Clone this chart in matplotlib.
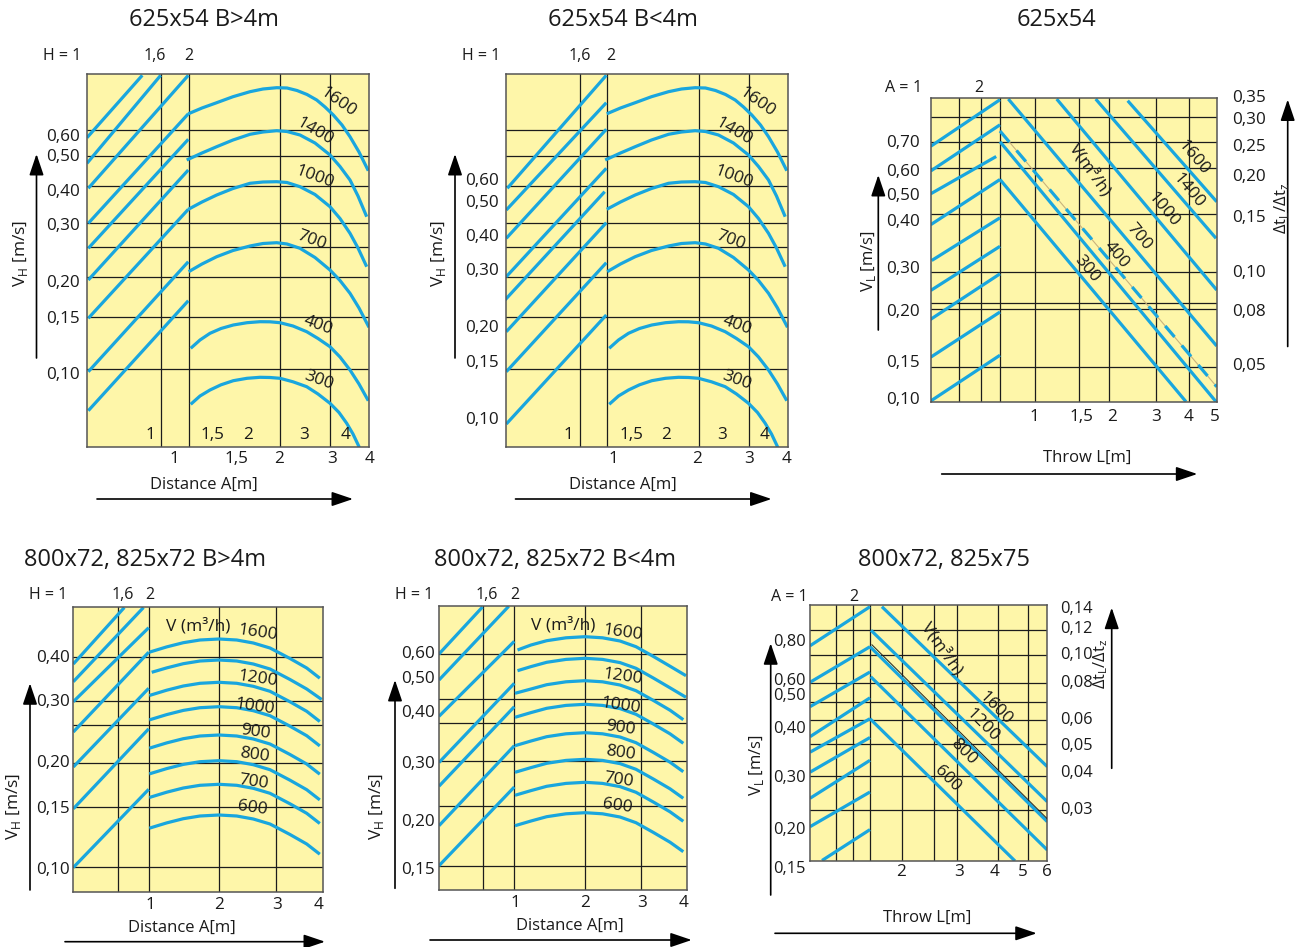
import matplotlib.pyplot as plt

plt.rcParams['font.family'] = ['Open Sans', 'DejaVu Sans']
plt.rcParams['mathtext.fontset'] = 'custom'
plt.rcParams['mathtext.rm'] = 'Open Sans'

BLUE = '#19a6de'
PAPER = '#fef6a9'
INK = '#1c1c1c'

# Todas las posiciones de los nomogramas estan en "unidades de papel":
# x desde el borde izquierdo del recuadro, y desde el borde superior.

# --- 625x54 B>4m / B<4m (mismas curvas y reticula) ---
a_vgrid = [74, 101.5, 193, 243]
a_hgrid = [56, 81.7, 111.7, 149.3, 172.7, 202.7, 243.3, 295]
a_curve_x = [
    [101.3, 115, 129.7, 146, 163, 176, 189.7, 200, 210, 220, 229.7, 238, 246.3, 255, 263, 272, 281.3],
    [99.7, 115, 129.7, 146, 163, 176, 189.7, 200, 213, 228, 243, 253, 263, 271, 279.7],
    [101.3, 115, 129.7, 146, 163, 176, 189.7, 200, 213, 228, 243, 253, 263, 271, 279.7],
    [101.7, 115, 129.7, 146, 163, 176, 189.7, 200, 213, 228, 243, 253, 263, 272, 282],
    [103.7, 113, 123, 134, 146.3, 160, 173, 183, 193, 206, 219.7, 231, 243, 253, 263, 272, 281.3],
    [103.7, 113, 123, 134, 146.3, 160, 173, 183, 193, 206, 219.7, 231, 243, 252, 259.7, 266, 272.3],
]
a_curve_y = [
    [39.8, 34, 28.7, 22.7, 17.7, 15, 13.7, 14, 16.5, 20.5, 26, 33, 41, 51, 62.7, 78, 96.7],
    [86, 79, 72.7, 66, 60.3, 58, 56.7, 57.5, 61, 69, 81, 92.5, 106, 122, 142.7],
    [135.3, 128, 121, 114.5, 109.3, 108, 107.7, 108.5, 112.7, 120.5, 132.7, 144.5, 159.3, 174, 192.7],
    [197.7, 190, 182.7, 176.5, 172, 169.5, 168.7, 170, 174.3, 183.5, 196, 206.5, 219.3, 234, 253.3],
    [274.3, 266, 259.3, 254.5, 251, 248.7, 247.7, 247.8, 248.7, 252, 257.7, 264.5, 272.7, 283, 296, 310, 326.7],
    [330.3, 322, 316, 310.8, 306.7, 304.3, 303.3, 303.5, 304.3, 307.8, 312.7, 320, 329.3, 338.5, 349.3, 360, 373.3],
]
a_curve_names = ['1600', '1400', '1000', '700', '400', '300']
a_name_x = [251.3, 228, 228, 224.7, 231.3, 231.3]
a_name_y = [27.7, 57.7, 102.7, 166, 251, 306]
a_name_rot = [-35, -30, -20, -20, -20, -20]
a_inner_ticks = ['1', '1,5', '2', '3', '4']
a_inner_x = [63, 125.7, 161, 217, 259]

p1_diag_x0 = [0, 0, 1.3, 1.3, 1.3, 1.3, 1.3, 1.3, 1.3]
p1_diag_y0 = [63.7, 89.3, 114.3, 149.3, 174.3, 206, 244.3, 297.7, 336.7]
p1_diag_x1 = [55.3, 73.7, 101.3, 101.3, 101.3, 101.3, 101.3, 101.3, 101.3]
p1_diag_y1 = [1.3, 1.3, 1.3, 39.8, 65.3, 96, 135.3, 187.7, 226.7]
p1_vel = ['0,60', '0,50', '0,40', '0,30', '0,20', '0,15', '0,10']
p1_vel_y = [62.7, 83.3, 117.7, 151.7, 209.3, 245.3, 301]
p1_dist = ['1', '1,5', '2', '3', '4']
p1_dist_x = [87, 149.7, 192, 244.7, 283]
p1_top = ['1,6', '2']
p1_top_x = [68, 102]

p2_diag_x0 = [1.8, 0.8, 0.8, 0.8, -0.5, 0.8, 0.8, 0.8]
p2_diag_y0 = [114.3, 136, 164.3, 202.7, 226, 257.7, 297.7, 350]
p2_diag_x1 = [100.8, 100.8, 100.8, 100.8, 99.2, 100.8, 100.8, 100.8]
p2_diag_y1 = [1.3, 28.7, 55.3, 94.3, 117.7, 148.7, 188.7, 241]
p2_vel = ['0,60', '0,50', '0,40', '0,30', '0,20', '0,15', '0,10']
p2_vel_y = [107, 128.7, 162.7, 196.7, 254.3, 289.3, 346]
p2_dist = ['1', '2', '3', '4']
p2_dist_x = [107.8, 191.2, 243.8, 281.2]
p2_top = ['1,6', '2']
p2_top_x = [74.5, 105.2]

# --- 625x54 (alcance) ---
p3_vgrid = [28.3, 50, 69, 104.3, 148.6, 178.6, 225.3, 258.6]
p3_hgrid = [18.5, 44, 69.5, 116, 173.5, 204, 210.3, 268.5]
p3_up_x0 = [0, 0, 0, 0, 1, 0, -1.4, 0, 0]
p3_up_y0 = [47.8, 72.5, 95.3, 126.2, 162, 192, 221.7, 258.7, 302.5]
p3_up_x1 = [69.3, 69.3, 65.5, 69.3, 69.3, 69.3, 69.3, 69.3, 69.3]
p3_up_y1 = [1.2, 26.3, 58, 81, 119.3, 147.8, 175.3, 213.5, 256.7]
p3_down_x0 = [69.3, 69.3, 77.6, 126, 165, 197]
p3_down_y0 = [81, 43.2, 0.5, 0.5, 0.5, 2.2]
p3_down_x1 = [255.3, 285.3, 286, 286, 285.3, 286]
p3_down_y1 = [303.2, 303.2, 247.5, 191.5, 139.8, 103.2]
p3_dash = [69.3, 32.5, 286, 288.2]
p3_names = ['V(m³/h)', '1600', '1400', '1000', '700', '400', '300']
p3_name_x = [159.3, 262.6, 257.6, 232.6, 208.6, 186, 156]
p3_name_y = [71.5, 58.8, 92.2, 111.5, 138.2, 156.5, 170.8]
p3_name_rot = [-55, -50, -50, -50, -50, -50, -50]
p3_vel = ['0,70', '0,60', '0,50', '0,40', '0,30', '0,20', '0,15', '0,10']
p3_vel_y = [44.8, 73.2, 97.5, 123.2, 170.8, 213.8, 264.2, 301.5]
p3_dt = ['0,35', '0,30', '0,25', '0,20', '0,15', '0,10', '0,08', '0,05']
p3_dt_y = [-0.2, 21.5, 48.2, 78.8, 119.2, 174.8, 213.2, 267.5]
p3_throw = ['1', '1,5', '2', '3', '4', '5']
p3_throw_x = [103.3, 151, 181, 225.3, 257.6, 284.3]

# --- 800x72, 825x72 B>4m ---
p4_vgrid = [44.4, 75.7, 145.7, 202.4]
p4_hgrid = [49.2, 93.2, 117.8, 155.5, 199.8, 259.5]
p4_diag_x0 = [0, 0, 0, 0, 0, 0, 0]
p4_diag_y0 = [56.5, 74.2, 94.2, 124.5, 159.5, 201.3, 260]
p4_diag_x1 = [51, 70.2, 75.4, 75.4, 75.4, 75.4, 75.4]
p4_diag_y1 = [0, 0, 20.2, 44.7, 80.8, 121.3, 181.8]
p4_x = [76, 93.4, 110, 126.7, 145.7, 163.4, 180, 196.7, 216.7, 233.4, 246.5]
p4_x1200 = [78.4, 93.4, 110, 126.7, 145.7, 163.4, 180, 196.7, 216.7, 233.4, 248.4]
p4_curve_y = [
    [44.7, 39.4, 35.2, 32.5, 31.5, 32.5, 35.5, 40.5, 51, 60.5, 70.7],
    [64.8, 60.4, 56.2, 53.5, 52.5, 53.5, 56.5, 61.5, 72, 81.5, 92],
    [88, 82.7, 78.5, 75.8, 74.8, 75.8, 78.8, 83.8, 94.3, 103.8, 114],
    [112.4, 107.1, 102.9, 100.2, 99.2, 100.2, 103.2, 108.2, 118.7, 128.2, 138.4],
    [140.7, 135.4, 131.2, 128.5, 127.5, 128.5, 131.5, 136.5, 147, 156.5, 166.7],
    [166.4, 161.1, 156.9, 154.2, 153.2, 154.2, 157.2, 162.2, 172.7, 182.2, 192.4],
    [190, 184.7, 180.5, 177.8, 176.8, 177.8, 180.8, 185.8, 196.3, 205.8, 216],
    [220.7, 215.4, 211.2, 208.5, 207.5, 208.5, 211.5, 216.5, 227, 236.5, 246.7],
]
p4_curve_x = [p4_x, p4_x1200, p4_x, p4_x, p4_x, p4_x, p4_x, p4_x]
p4_names = ['V (m³/h)', '1600', '1200', '1000', '900', '800', '700', '600']
p4_name_x = [125, 184.4, 184.4, 181.7, 181.7, 181.7, 180, 179]
p4_name_y = [19.2, 25.8, 71.5, 99.2, 124.2, 147.5, 174.2, 200.2]
p4_vel = ['0,40', '0,30', '0,20', '0,15', '0,10']
p4_vel_y = [50.8, 94.8, 155.8, 201.8, 262.5]
p4_dist = ['1', '2', '3', '4']
p4_dist_x = [77.4, 145.7, 203.4, 245.7]

# --- 800x72, 825x72 B<4m ---
p5_vgrid = [43.5, 75.3, 146, 201.7]
p5_hgrid = [48.6, 93, 117.6, 155.6, 199.8, 260]
p5_diag_x0 = [0, 0, 0, 0, 0, 0, 0]
p5_diag_y0 = [48.3, 74.3, 110.6, 156.8, 180.5, 220, 260]
p5_diag_x1 = [43.5, 69.7, 75.3, 75.3, 75.3, 75.3, 75.3]
p5_diag_y1 = [1.3, 0.6, 35.6, 77.6, 101, 140, 181.3]
p5_x_top = [78.5, 92, 107.7, 127, 146, 163.5, 181, 197, 214.3, 231, 247]
p5_x = [76, 92, 107.7, 127, 146, 163.5, 181, 197, 214.3, 231, 244.3]
p5_curve_y = [
    [44.3, 39.3, 35, 32.1, 31, 32.1, 35.3, 41, 50.7, 60.5, 70],
    [65, 60.9, 56.6, 53.7, 52.6, 53.7, 56.9, 62.6, 72.3, 82.1, 91.6],
    [87.6, 83.3, 79, 76.1, 75, 76.1, 79.3, 85, 94.7, 104.5, 114],
    [111.6, 106.9, 102.6, 99.7, 98.6, 99.7, 102.9, 108.6, 118.3, 128.1, 137.6],
    [140, 135.3, 131, 128.1, 127, 128.1, 131.3, 137, 146.7, 156.5, 166],
    [166.6, 161.9, 157.6, 154.7, 153.6, 154.7, 157.9, 163.6, 173.3, 183.1, 192.6],
    [189.6, 184.9, 180.6, 177.7, 176.6, 177.7, 180.9, 186.6, 196.3, 206.1, 215.6],
    [220, 215.3, 211, 208.1, 207, 208.1, 211.3, 217, 226.7, 236.5, 246],
]
p5_curve_x = [p5_x_top, p5_x_top, p5_x, p5_x, p5_x, p5_x, p5_x, p5_x]
p5_names = ['V (m³/h)', '1600', '1200', '1000', '900', '800', '700', '600']
p5_name_x = [124.3, 183.7, 183.7, 181.7, 181.7, 181.7, 180, 178.7]
p5_name_y = [19.3, 27, 71, 100.3, 122.6, 147.6, 174.3, 200.3]
p5_vel = ['0,60', '0,50', '0,40', '0,30', '0,20', '0,15']
p5_vel_y = [48.6, 73.3, 107.6, 158.6, 216, 264.3]
p5_dist = ['1', '2', '3', '4']
p5_dist_x = [76.7, 146, 203.3, 245]

# --- 800x72, 825x75 (alcance) ---
p6_vgrid = [26, 43.3, 60, 92.3, 124.3, 147.3, 187.7, 218.3]
p6_hgrid = [24.7, 49.7, 77.4, 97, 114.7, 139, 170.4, 204.7]
p6_up_x0 = [0, 0, 0, 0, 0, 0, 0, 0, 12]
p6_up_y0 = [40.5, 77, 101.4, 131.4, 146.9, 166.9, 193, 221.4, 255.2]
p6_up_x1 = [60, 60, 60, 60, 60, 60, 60, 60, 60]
p6_up_y1 = [1.4, 41.4, 66.7, 92.5, 113.4, 132.2, 155, 186.7, 224.3]
p6_down_x0 = [71.9, 61, 60, 60.7, 60]
p6_down_y0 = [1.4, 25, 41.4, 71.4, 113.4]
p6_down_x1 = [237.3, 237.3, 237.3, 237.3, 205]
p6_down_y1 = [161.4, 196.4, 216.4, 244.7, 255.7]
p6_thin = [62, 39.5, 237.3, 213.5]
p6_names = ['V(m³/h)', '1600', '1200', '800', '600']
p6_name_x = [131.7, 185, 172.7, 154, 137.3]
p6_name_y = [43, 103, 119.7, 146.4, 173]
p6_name_rot = [-55, -45, -45, -45, -45]
p6_vel = ['0,80', '0,60', '0,50', '0,40', '0,30', '0,20', '0,15']
p6_vel_y = [37, 75.7, 90.7, 123.7, 172.4, 224.7, 263.7]
p6_dt = ['0,14', '0,12', '0,10', '0,08', '0,06', '0,05', '0,04', '0,03']
p6_dt_y = [3.7, 23.7, 49.7, 78, 114.7, 140.4, 168, 204.7]
p6_throw = ['2', '3', '4', '5', '6']
p6_throw_x = [91, 149.3, 185, 212.7, 236.7]

W, H = 1305, 947
fig = plt.figure(figsize=(W / 100, H / 100), dpi=100)


def panel(left, top, w, h, vgrid, hgrid):
    ax = fig.add_axes([left / W, 1 - (top + h) / H, w / W, h / H])
    ax.set_xlim(0, w)
    ax.set_ylim(h, 0)
    ax.set_facecolor(PAPER)
    ax.set_xticks([])
    ax.set_yticks([])
    for s in ax.spines.values():
        s.set_color('#555555')
        s.set_linewidth(1.1)
    for x in vgrid:
        ax.axvline(x, color=INK, lw=0.9, zorder=1)
    for y in hgrid:
        ax.axhline(y, color=INK, lw=0.9, zorder=1)
    return ax


def segments(ax, x0, y0, x1, y1, **kw):
    for a, b, c, d in zip(x0, y0, x1, y1):
        ax.plot([a, c], [b, d], color=BLUE, lw=2.3, zorder=2,
                solid_capstyle='butt', **kw)


def curves(ax, xs_list, ys_list):
    for xs, ys in zip(xs_list, ys_list):
        ax.plot(xs, ys, color=BLUE, lw=2.3, zorder=2,
                solid_joinstyle='round', solid_capstyle='butt')


def arrow(ax, x0, y0, x1, y1):
    ax.annotate('', xy=(x1, y1), xytext=(x0, y0), annotation_clip=False,
                arrowprops=dict(arrowstyle='-|>,head_length=0.65,head_width=0.22',
                                color='black', lw=1.2, mutation_scale=20,
                                shrinkA=0, shrinkB=0))


def txt(ax, x, y, s, size=12.3, **kw):
    kw.setdefault('ha', 'center')
    kw.setdefault('va', 'center')
    ax.text(x, y, s, fontsize=size, color='#1a1a1a', zorder=4, **kw)


VH = r'V$_{\mathregular{H}}$ [m/s]'
VL = r'V$_{\mathregular{L}}$ [m/s]'
DT = r'Δt$_{\mathregular{L}}$/Δt$_{\mathregular{z}}$'

# ---------- fila superior: 625x54 B>4m y B<4m ----------
for left, title, dx0, dy0, dx1, dy1, vel, vel_y, dist, dist_x, top, top_x in [
        (87, '625x54 B>4m', p1_diag_x0, p1_diag_y0, p1_diag_x1, p1_diag_y1,
         p1_vel, p1_vel_y, p1_dist, p1_dist_x, p1_top, p1_top_x),
        (505.5, '625x54 B<4m', p2_diag_x0, p2_diag_y0, p2_diag_x1, p2_diag_y1,
         p2_vel, p2_vel_y, p2_dist, p2_dist_x, p2_top, p2_top_x)]:
    ax = panel(left, 74, 282, 373, a_vgrid, a_hgrid)
    segments(ax, dx0, dy0, dx1, dy1)
    curves(ax, a_curve_x, a_curve_y)
    for s, x, y, r in zip(a_curve_names, a_name_x, a_name_y, a_name_rot):
        txt(ax, x, y, s, 12.5, rotation=r, rotation_mode='anchor')
    for s, x in zip(a_inner_ticks, a_inner_x):
        txt(ax, x, 361, s)
    for s, y in zip(vel, vel_y):
        txt(ax, -7, y, s, ha='right')
    for s, x in zip(dist, dist_x):
        txt(ax, x, 385, s)
    txt(ax, -44, -18, 'H = 1', 11.5, ha='left')
    for s, x in zip(top, top_x):
        txt(ax, x, -18, s, 11.5)
    txt(ax, 117, 411, 'Distance A[m]', 12)
    arrow(ax, 10, 425, 266, 425)
    txt(ax, -67, 179, VH, 12.5, rotation=90)
    arrow(ax, -50.5, 284, -50.5, 80)
    txt(ax, 117, -54, title, 17)

# ---------- 625x54 alcance ----------
ax = panel(930.7, 98.5, 286, 303.5, p3_vgrid, p3_hgrid)
ax.plot([p3_dash[0], p3_dash[2]], [p3_dash[1], p3_dash[3]], color='#c9b27c', lw=0.8, zorder=2)
segments(ax, p3_up_x0, p3_up_y0, p3_up_x1, p3_up_y1)
segments(ax, p3_down_x0, p3_down_y0, p3_down_x1, p3_down_y1)
ax.plot([p3_dash[0], p3_dash[2]], [p3_dash[1], p3_dash[3]], color=BLUE, lw=2.3,
        zorder=2, dashes=(4.5, 3.5))
for s, x, y, r in zip(p3_names, p3_name_x, p3_name_y, p3_name_rot):
    txt(ax, x, y, s, 12.5, rotation=r, rotation_mode='anchor')
for s, y in zip(p3_vel, p3_vel_y):
    txt(ax, -10.7, y, s, ha='right')
for s, y in zip(p3_dt, p3_dt_y):
    txt(ax, 301, y, s, ha='left')
for s, x in zip(p3_throw, p3_throw_x):
    txt(ax, x, 318, s)
txt(ax, -45.7, -11, 'A =', 11.5, ha='left')
txt(ax, -14, -11, '1', 11.5)
txt(ax, 48.3, -11, '2', 11.5)
txt(ax, 156, 359, 'Throw L[m]', 12)
arrow(ax, 11, 375.5, 266.6, 375.5)
txt(ax, -62.4, 163, VL, 12, rotation=90)
arrow(ax, -52.4, 231.5, -52.4, 76.5)
txt(ax, 351, 110, DT, 12, rotation=90)
arrow(ax, 357, 248, 357, 1)
txt(ax, 125.3, -78.5, '625x54', 17)

# ---------- fila inferior: 800x72, 825x72 B>4m y B<4m ----------
for (left, top_, w, h, vg, hg, dx0, dy0, dx1, dy1, cx, cy, names, nx, ny,
     vel, vel_y, vel_x, dist, dist_x, dist_y, topx, top_y, lab, arr, ylab,
     yarr, title) in [
        (73.3, 607.5, 250, 284.8, p4_vgrid, p4_hgrid, p4_diag_x0, p4_diag_y0,
         p4_diag_x1, p4_diag_y1, p4_curve_x, p4_curve_y, p4_names, p4_name_x,
         p4_name_y, p4_vel, p4_vel_y, -3.3, p4_dist, p4_dist_x, 297.5,
         [-44.3, 49.4, 76.7], -12.5, (108.4, 320.8), (-8.3, 251.7, 334.2),
         (-60, 199.2), (-43.3, 282.5, 75.8), (71.2, -47.5, '800x72, 825x72 B>4m')),
        (439, 605.7, 247.7, 284.3, p5_vgrid, p5_hgrid, p5_diag_x0, p5_diag_y0,
         p5_diag_x1, p5_diag_y1, p5_curve_x, p5_curve_y, p5_names, p5_name_x,
         p5_name_y, p5_vel, p5_vel_y, -4, p5_dist, p5_dist_x, 297,
         [-44, 47.7, 76], -10.7, (131, 320.3), (-9, 252.7, 334.3),
         (-62, 200.3), (-44, 282.6, 74.3), (115.5, -45.7, '800x72, 825x72 B<4m'))]:
    ax = panel(left, top_, w, h, vg, hg)
    segments(ax, dx0, dy0, dx1, dy1)
    curves(ax, cx, cy)
    txt(ax, nx[0], ny[0], names[0], 12.5)
    for s, x, y in zip(names[1:], nx[1:], ny[1:]):
        txt(ax, x, y, s, 12.5, rotation=-8, rotation_mode='anchor')
    for s, y in zip(vel, vel_y):
        txt(ax, vel_x, y, s, ha='right')
    for s, x in zip(dist, dist_x):
        txt(ax, x, dist_y, s)
    txt(ax, topx[0], top_y, 'H = 1', 11.5, ha='left')
    txt(ax, topx[1], top_y, '1,6', 11.5)
    txt(ax, topx[2], top_y, '2', 11.5)
    txt(ax, lab[0], lab[1], 'Distance A[m]', 12)
    arrow(ax, arr[0], arr[2], arr[1], arr[2])
    txt(ax, ylab[0], ylab[1], VH, 12.5, rotation=90)
    arrow(ax, yarr[0], yarr[1], yarr[0], yarr[2])
    txt(ax, title[0], title[1], title[2], 17)

# ---------- 800x72, 825x75 alcance ----------
ax = panel(810, 605.3, 237.3, 255.7, p6_vgrid, p6_hgrid)
segments(ax, p6_up_x0, p6_up_y0, p6_up_x1, p6_up_y1)
segments(ax, p6_down_x0, p6_down_y0, p6_down_x1, p6_down_y1)
ax.plot([p6_thin[0], p6_thin[2]], [p6_thin[1], p6_thin[3]], color='#222222', lw=0.7, zorder=3)
for s, x, y, r in zip(p6_names, p6_name_x, p6_name_y, p6_name_rot):
    txt(ax, x, y, s, 12.5, rotation=r, rotation_mode='anchor')
for s, y in zip(p6_vel, p6_vel_y):
    txt(ax, -4, y, s, 11.8, ha='right')
for s, y in zip(p6_dt, p6_dt_y):
    txt(ax, 250, y, s, 11.8, ha='left')
for s, x in zip(p6_throw, p6_throw_x):
    txt(ax, x, 266.5, s)
txt(ax, -39.3, -8.6, 'A = 1', 11.5, ha='left')
txt(ax, 44, -8.6, '2', 11.5)
txt(ax, 116.7, 312.4, 'Throw L[m]', 12)
arrow(ax, -35, 328, 226.7, 328)
txt(ax, -53.3, 159.7, VL, 12, rotation=90)
arrow(ax, -39.3, 289.7, -39.3, 38)
txt(ax, 290.5, 58, DT, 11.8, rotation=90)
arrow(ax, 301.7, 163, 301.7, 2.4)
txt(ax, 133.5, -45.3, '800x72, 825x75', 17)

fig.savefig('out.png', dpi=100)
